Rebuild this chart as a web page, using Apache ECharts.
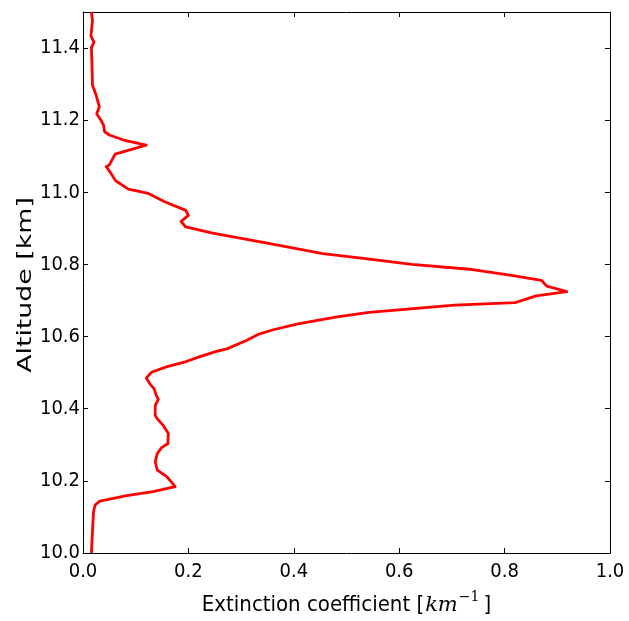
<!DOCTYPE html>
<html>
<head>
<meta charset="utf-8">
<script src="https://cdn.jsdelivr.net/npm/echarts@6/dist/echarts.min.js"></script>
<style>
  html, body { margin: 0; padding: 0; background: #fff; }
  #chart { width: 629px; height: 621px; }
</style>
</head>
<body>
<div id="chart"></div>
<script>
// Lidar extinction profile: altitude (km) vs extinction coefficient (1/km)
const altitude = [
  11.500, 11.476, 11.434, 11.416, 11.402, 11.356, 11.297, 11.269, 11.237, 11.218,
  11.200, 11.186, 11.168, 11.159, 11.145, 11.131, 11.106, 11.076, 11.071, 11.057,
  11.032, 11.009, 10.997, 10.974, 10.950, 10.936, 10.919, 10.904, 10.887, 10.860,
  10.830, 10.816, 10.800, 10.786, 10.770, 10.756, 10.740, 10.725, 10.713, 10.694,
  10.687, 10.667, 10.655, 10.635, 10.619, 10.607, 10.589, 10.566, 10.559, 10.543,
  10.529, 10.516, 10.501, 10.485, 10.469, 10.455, 10.437, 10.426, 10.409, 10.382,
  10.372, 10.354, 10.331, 10.303, 10.292, 10.276, 10.253, 10.230, 10.212, 10.184,
  10.170, 10.159, 10.144, 10.133, 10.115, 10.060, 10.000
];
const extinction = [
  0.016, 0.018, 0.015, 0.021, 0.016, 0.017, 0.018, 0.025, 0.031, 0.026,
  0.034, 0.039, 0.041, 0.050, 0.077, 0.120, 0.061, 0.050, 0.044, 0.051,
  0.062, 0.086, 0.124, 0.155, 0.195, 0.200, 0.186, 0.195, 0.246, 0.347,
  0.455, 0.536, 0.624, 0.739, 0.813, 0.870, 0.880, 0.918, 0.860, 0.820,
  0.705, 0.543, 0.482, 0.408, 0.361, 0.334, 0.310, 0.273, 0.253, 0.219,
  0.192, 0.158, 0.130, 0.120, 0.127, 0.135, 0.139, 0.143, 0.137, 0.137,
  0.141, 0.152, 0.162, 0.161, 0.149, 0.141, 0.137, 0.141, 0.159, 0.175,
  0.133, 0.083, 0.032, 0.023, 0.020, 0.018, 0.016
];

const xRange = [0, 1.0];
const yRange = [10.0, 11.5];
const xStep = 0.2;
const yStep = 0.2;
const xTitle = 'Extinction coefficient [';
const yTitle = 'Altitude [km]';

const tickFont = '"DejaVu Sans Condensed", "DejaVu Sans", sans-serif';

const profile = extinction.map((v, i) => [v, altitude[i]]);

const chart = echarts.init(document.getElementById('chart'), null, { renderer: 'canvas' });

const frameLine = { show: true, onZero: false, lineStyle: { color: '#000', width: 1 } };
const innerTick = { show: true, inside: true, length: 5, lineStyle: { color: '#000', width: 1 } };

chart.setOption({
  animation: false,
  backgroundColor: '#fff',
  grid: { left: 83, right: 19, top: 12, bottom: 66, containLabel: false },
  xAxis: [
    {
      type: 'value', min: xRange[0], max: xRange[1], interval: xStep, position: 'bottom',
      axisLine: frameLine, axisTick: innerTick, splitLine: { show: false },
      axisLabel: {
        margin: 9, color: '#000', fontFamily: tickFont, fontSize: 20,
        formatter: v => v.toFixed(1)
      },
      name: '{a|' + xTitle + '}{i|km}{s|\u22121}{b|]}',
      nameLocation: 'middle', nameGap: 33,
      nameTextStyle: {
        rich: {
          a: { fontFamily: tickFont, fontSize: 22, color: '#000', verticalAlign: 'bottom', lineHeight: 30 },
          i: { fontFamily: '"DejaVu Serif", serif', fontStyle: 'italic', fontSize: 21, color: '#000', verticalAlign: 'bottom', lineHeight: 30, padding: [0, 1, 0, 1] },
          s: { fontFamily: '"DejaVu Serif", serif', fontSize: 14, color: '#000', verticalAlign: 'bottom', lineHeight: 30, padding: [0, 4, 12, 0] },
          b: { fontFamily: tickFont, fontSize: 22, color: '#000', verticalAlign: 'bottom', lineHeight: 30 }
        }
      }
    },
    {
      type: 'value', min: xRange[0], max: xRange[1], interval: xStep, position: 'top',
      axisLine: frameLine, axisTick: innerTick, splitLine: { show: false },
      axisLabel: { show: false }
    }
  ],
  yAxis: [
    {
      type: 'value', min: yRange[0], max: yRange[1], interval: yStep, position: 'left',
      axisLine: frameLine, axisTick: innerTick, splitLine: { show: false },
      axisLabel: {
        margin: 3, color: '#000', fontFamily: tickFont, fontSize: 20, showMaxLabel: false,
        formatter: v => v.toFixed(1)
      }
    },
    {
      type: 'value', min: yRange[0], max: yRange[1], interval: yStep, position: 'right',
      axisLine: frameLine, axisTick: innerTick, splitLine: { show: false },
      axisLabel: { show: false }
    }
  ],
  graphic: [
    {
      type: 'text',
      x: 25.5, y: 285,
      rotation: Math.PI / 2,
      scaleX: 1.03, scaleY: 0.75,
      style: {
        text: yTitle,
        fontFamily: '"DejaVu Sans", sans-serif',
        fontSize: 26,
        fill: '#000',
        textAlign: 'center',
        textVerticalAlign: 'middle'
      }
    }
  ],
  series: [
    {
      type: 'line',
      xAxisIndex: 0, yAxisIndex: 0,
      data: profile,
      showSymbol: false,
      symbol: 'none',
      lineStyle: { color: '#ff0000', width: 2.8, join: 'round' },
      clip: true
    }
  ]
});
</script>
</body>
</html>
